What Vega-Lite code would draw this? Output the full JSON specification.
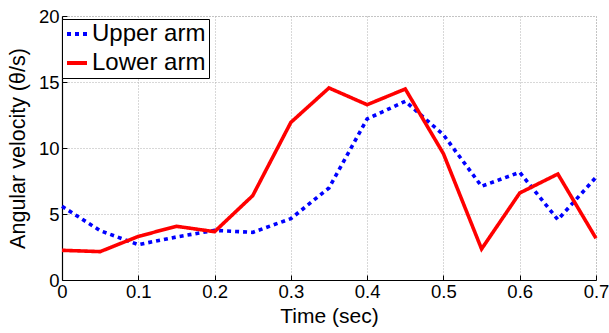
{
  "$schema": "https://vega.github.io/schema/vega-lite/v6.json",
  "width": 534,
  "height": 264,
  "autosize": {"type": "none"},
  "padding": {"left": 62, "top": 16, "right": 13, "bottom": 53},
  "background": "white",
  "config": {
    "font": "Liberation Sans",
    "view": {"stroke": "#b0b0b0", "strokeDash": [1, 2], "strokeWidth": 1}
  },
  "data": {
    "values": [
      {"t": 0.00, "series": "Upper arm", "v": 5.58},
      {"t": 0.05, "series": "Upper arm", "v": 3.74},
      {"t": 0.10, "series": "Upper arm", "v": 2.68},
      {"t": 0.15, "series": "Upper arm", "v": 3.26},
      {"t": 0.20, "series": "Upper arm", "v": 3.76},
      {"t": 0.25, "series": "Upper arm", "v": 3.61},
      {"t": 0.30, "series": "Upper arm", "v": 4.65},
      {"t": 0.35, "series": "Upper arm", "v": 6.97},
      {"t": 0.40, "series": "Upper arm", "v": 12.2},
      {"t": 0.45, "series": "Upper arm", "v": 13.54},
      {"t": 0.50, "series": "Upper arm", "v": 11.0},
      {"t": 0.55, "series": "Upper arm", "v": 7.1},
      {"t": 0.60, "series": "Upper arm", "v": 8.16},
      {"t": 0.65, "series": "Upper arm", "v": 4.57},
      {"t": 0.70, "series": "Upper arm", "v": 7.78},
      {"t": 0.00, "series": "Lower arm", "v": 2.25},
      {"t": 0.05, "series": "Lower arm", "v": 2.15},
      {"t": 0.10, "series": "Lower arm", "v": 3.3},
      {"t": 0.15, "series": "Lower arm", "v": 4.07},
      {"t": 0.20, "series": "Lower arm", "v": 3.66},
      {"t": 0.25, "series": "Lower arm", "v": 6.39},
      {"t": 0.30, "series": "Lower arm", "v": 11.94},
      {"t": 0.35, "series": "Lower arm", "v": 14.55},
      {"t": 0.40, "series": "Lower arm", "v": 13.28},
      {"t": 0.45, "series": "Lower arm", "v": 14.47},
      {"t": 0.50, "series": "Lower arm", "v": 9.57},
      {"t": 0.55, "series": "Lower arm", "v": 2.35},
      {"t": 0.60, "series": "Lower arm", "v": 6.59},
      {"t": 0.65, "series": "Lower arm", "v": 8.03},
      {"t": 0.70, "series": "Lower arm", "v": 3.16}
    ]
  },
  "mark": {"type": "line", "strokeWidth": 3.6, "strokeCap": "butt", "strokeJoin": "miter"},
  "encoding": {
    "x": {
      "field": "t",
      "type": "quantitative",
      "title": "Time (sec)",
      "scale": {"domain": [0, 0.7], "nice": false, "zero": false},
      "axis": {
        "values": [0, 0.1, 0.2, 0.3, 0.4, 0.5, 0.6, 0.7],
        "format": "~g",
        "domainColor": "black",
        "domainWidth": 1.2,
        "tickColor": "black",
        "tickSize": -5,
        "labelPadding": 7,
        "labelFontSize": 18.5,
        "labelColor": "black",
        "labelFlush": false,
        "titleFontSize": 21,
        "titleFontWeight": "normal",
        "titleColor": "black",
        "titlePadding": 5,
        "gridColor": "#b0b0b0",
        "gridDash": [1, 2],
        "gridOpacity": 1
      }
    },
    "y": {
      "field": "v",
      "type": "quantitative",
      "title": "Angular velocity (θ/s)",
      "scale": {"domain": [0, 20], "nice": false},
      "axis": {
        "values": [0, 5, 10, 15, 20],
        "domainColor": "black",
        "domainWidth": 1.2,
        "tickColor": "black",
        "tickSize": -5,
        "labelPadding": 8,
        "labelFontSize": 18.5,
        "labelColor": "black",
        "labelFlush": false,
        "titleFontSize": 21.5,
        "titleFontWeight": "normal",
        "titleColor": "black",
        "titlePadding": 9,
        "gridColor": "#b0b0b0",
        "gridDash": [1, 2],
        "gridOpacity": 1
      }
    },
    "color": {
      "field": "series",
      "type": "nominal",
      "scale": {"domain": ["Upper arm", "Lower arm"], "range": ["#0000ff", "#ff0000"]},
      "legend": {
        "title": null,
        "orient": "none",
        "legendX": 0,
        "legendY": 3,
        "fillColor": "white",
        "strokeColor": "black",
        "padding": 3,
        "symbolType": "stroke",
        "symbolSize": 400,
        "symbolStrokeWidth": 4,
        "labelFontSize": 24,
        "labelColor": "black",
        "labelOffset": 3,
        "rowPadding": 5,
        "labelLimit": 200
      }
    },
    "strokeDash": {
      "field": "series",
      "type": "nominal",
      "scale": {"domain": ["Upper arm", "Lower arm"], "range": [[4, 4], [1, 0]]},
      "legend": null
    }
  }
}
